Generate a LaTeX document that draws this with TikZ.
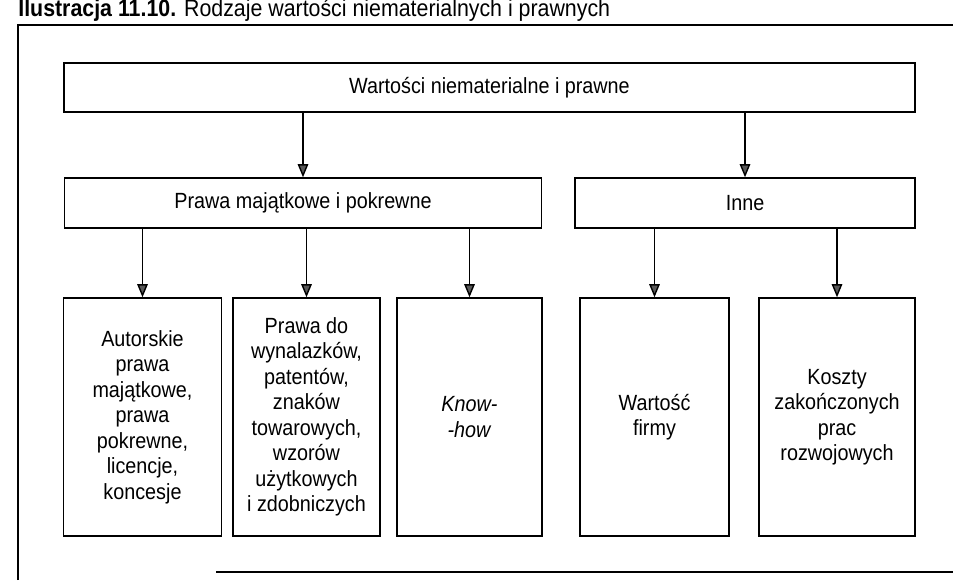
\documentclass[tikz,border=0pt]{standalone}
\usepackage{fontspec}
\setmainfont{Liberation Sans}[FakeStretch=0.9]
\usetikzlibrary{arrows.meta}

\begin{document}
\begin{tikzpicture}[
        box/.style={draw, line width=0.8pt, align=center, inner sep=0pt, font=\fontsize{12.5}{14.5}\selectfont},
        leaf/.style={box, minimum height=4.76cm},
        arr/.style={line width=0.8pt, -{Triangle[width=6pt,length=7.5pt,fill=black!65]}}
    ]
        \useasboundingbox (0,0) rectangle (19.06,11.6);

        \draw[line width=0.8pt] (0.36,0) -- (0.36,11.1) -- (19.06,11.1);
        \draw[line width=0.8pt] (4.32,0.16) -- (19.06,0.16);
        \node[anchor=base west, inner sep=0pt, font=\fontsize{13.5}{15}\selectfont] (title) at (0.36,11.26) {\textbf{Ilustracja 11.10.} Rodzaje wartości niematerialnych i prawnych};

        \node[box, minimum width=17.02cm, minimum height=0.98cm] (wnip) at (9.79,9.85) {Wartości niematerialne i prawne};
        \node[box, minimum width=9.54cm, minimum height=1cm] (pmp) at (6.06,7.54) {Prawa majątkowe i pokrewne};
        \node[box, minimum width=6.8cm, minimum height=1cm] (inne) at (14.9,7.54) {Inne};

        \node[leaf, minimum width=3.16cm] (aut) at (2.85,3.26) {Autorskie\\prawa\\majątkowe,\\prawa\\pokrewne,\\licencje,\\koncesje};
        \node[leaf, minimum width=2.94cm] (wyn) at (6.13,3.26) {Prawa do\\wynalazków,\\patentów,\\znaków\\towarowych,\\wzorów\\użytkowych\\i zdobniczych};
        \node[leaf, minimum width=2.9cm] (know) at (9.39,3.26) {\textit{Know-}\\\textit{-how}};
        \node[leaf, minimum width=2.98cm] (firma) at (13.09,3.26) {Wartość\\firmy};
        \node[leaf, minimum width=3.12cm] (koszty) at (16.74,3.26) {Koszty\\zakończonych\\prac\\rozwojowych};

        \draw[arr] (wnip.south -| pmp.north) -- (pmp.north);
        \draw[arr] (wnip.south -| inne.north) -- (inne.north);
        \foreach \leafnode in {aut, wyn, know}
            \draw[arr] (pmp.south -| \leafnode.north) -- (\leafnode.north);
        \foreach \leafnode in {firma, koszty}
            \draw[arr] (inne.south -| \leafnode.north) -- (\leafnode.north);
\end{tikzpicture}
\end{document}
